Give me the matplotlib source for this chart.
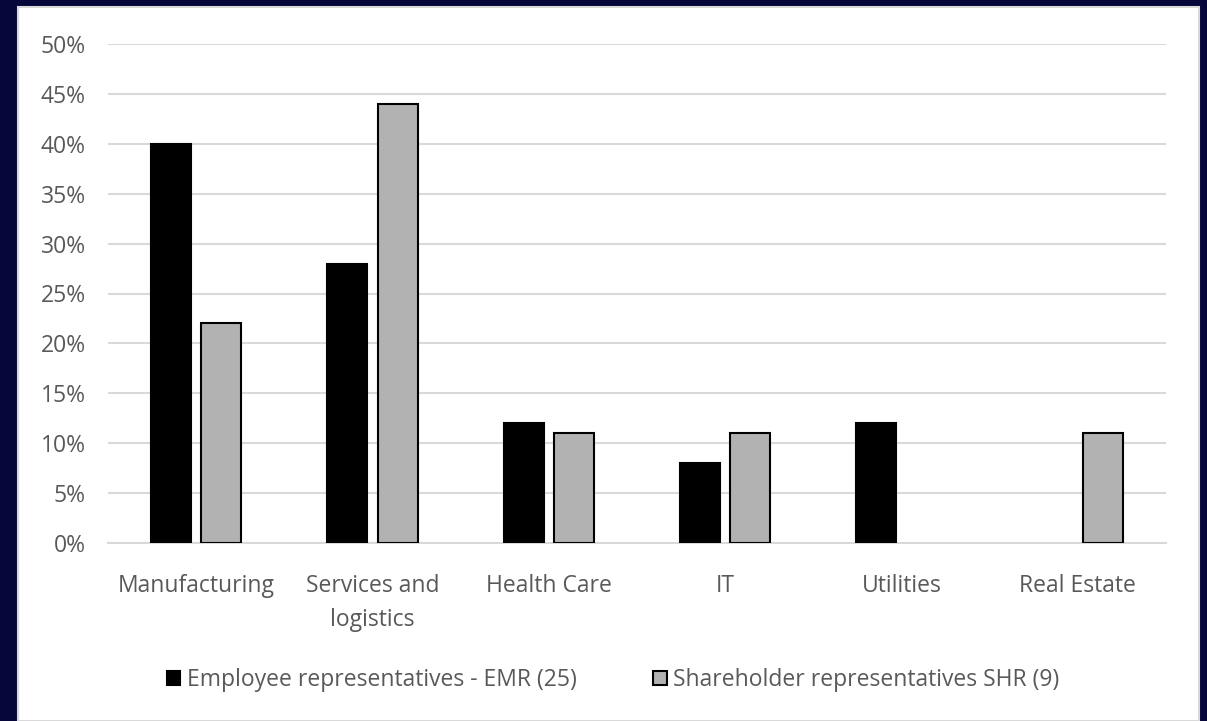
import matplotlib
matplotlib.use("Agg")
import matplotlib.pyplot as plt
from matplotlib.patches import Rectangle
import numpy as np

categories = ["Manufacturing", "Services and\nlogistics", "Health Care", "IT", "Utilities", "Real Estate"]
emr_values = [0.40, 0.28, 0.12, 0.08, 0.12, 0.0]
shr_values = [0.22, 0.44, 0.11, 0.11, 0.0, 0.11]
series_labels = ["Employee representatives - EMR (25)", "Shareholder representatives SHR (9)"]
yticks = [0, 0.05, 0.10, 0.15, 0.20, 0.25, 0.30, 0.35, 0.40, 0.45, 0.50]
ytick_labels = ["0%", "5%", "10%", "15%", "20%", "25%", "30%", "35%", "40%", "45%", "50%"]

W, H = 1207, 721
plt.rcParams["font.family"] = ["Open Sans", "DejaVu Sans"]
fig = plt.figure(figsize=(W / 100, H / 100), dpi=100, facecolor="#06063a")

# white slide panel
panel = Rectangle((18 / W, 0), (1199 - 18) / W, (721 - 7) / H, transform=fig.transFigure,
                  facecolor="white", edgecolor="#d9d9d9", linewidth=1.5, zorder=-5)
fig.patches.append(panel)

ax = fig.add_axes([108 / W, (721 - 543) / H, (1166 - 108) / W, (543 - 44) / H])
ax.set_zorder(2)
ax.set_facecolor("none")

x = np.arange(len(categories))
bw = 0.227
off = 0.142
b1 = ax.bar(x - off, emr_values, bw, color="black", edgecolor="black", linewidth=1.5,
            label=series_labels[0], zorder=3)
b2 = ax.bar(x + off, shr_values, bw, color="#b2b2b2", edgecolor="black", linewidth=1.5,
            label=series_labels[1], zorder=3)
for bars in (b1, b2):
    for p in bars.patches:
        if p.get_height() == 0:
            p.set_visible(False)

ax.set_xlim(-0.5, len(categories) - 0.5)
ax.set_ylim(0, 0.5)
ax.set_yticks(yticks)
ax.set_yticklabels(ytick_labels)
ax.set_xticks(x)
ax.set_xticklabels(categories, linespacing=1.6)
ax.yaxis.grid(True, color="#d9d9d9", linewidth=1.5, zorder=0)
ax.set_axisbelow(True)
for s in ["top", "right", "left"]:
    ax.spines[s].set_visible(False)
ax.spines["bottom"].set_color("#d9d9d9")
ax.spines["bottom"].set_linewidth(1.5)
ax.tick_params(axis="both", length=0, labelsize=16.5, labelcolor="#595959")
ax.tick_params(axis="y", pad=16)
ax.tick_params(axis="x", pad=22)

leg = fig.legend(loc="center", bbox_to_anchor=(0.508, (721 - 680) / H), ncol=2, frameon=False,
                 fontsize=16.5, handlelength=0.6, handleheight=0.6, handletextpad=0.3,
                 columnspacing=3.3)
leg.set_zorder(3)
for t in leg.get_texts():
    t.set_color("#595959")

fig.savefig("out.png", dpi=100, facecolor=fig.get_facecolor())
